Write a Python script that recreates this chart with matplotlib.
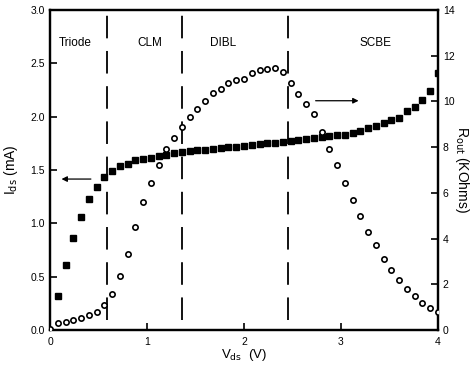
import numpy as np
import matplotlib
matplotlib.use("Agg")
import matplotlib.pyplot as plt

plt.rcParams['font.family'] = ['Liberation Sans', 'DejaVu Sans']

# drain voltage grid (V)
vds_ids = [0.08, 0.16, 0.24, 0.32, 0.40, 0.48, 0.56, 0.64, 0.72, 0.80,
           0.88, 0.96, 1.04, 1.12, 1.20, 1.28, 1.36, 1.44, 1.52, 1.60,
           1.68, 1.76, 1.84, 1.92, 2.00, 2.08, 2.16, 2.24, 2.32, 2.40,
           2.48, 2.56, 2.64, 2.72, 2.80, 2.88, 2.96, 3.04, 3.12, 3.20,
           3.28, 3.36, 3.44, 3.52, 3.60, 3.68, 3.76, 3.84, 3.92, 4.00]
# drain current (mA)
ids = [0.32, 0.61, 0.86, 1.06, 1.225, 1.34, 1.43, 1.49, 1.54, 1.56,
       1.59, 1.60, 1.615, 1.63, 1.645, 1.655, 1.665, 1.675, 1.685, 1.69,
       1.70, 1.71, 1.715, 1.72, 1.725, 1.73, 1.74, 1.75, 1.755, 1.76,
       1.77, 1.78, 1.79, 1.80, 1.81, 1.82, 1.825, 1.83, 1.85, 1.87,
       1.89, 1.91, 1.94, 1.97, 1.99, 2.05, 2.09, 2.16, 2.24, 2.41]

vds_rout = [0.0] + vds_ids
# output resistance (KOhms)
rout = [0.03, 0.32, 0.36, 0.44, 0.54, 0.67, 0.79, 1.11, 1.59, 2.35, 3.34,
        4.52, 5.59, 6.44, 7.22, 7.90, 8.38, 8.87, 9.33, 9.68, 10.03,
        10.35, 10.53, 10.79, 10.94, 11.00, 11.26, 11.36, 11.41, 11.47, 11.27,
        10.82, 10.31, 9.87, 9.43, 8.65, 7.93, 7.23, 6.44, 5.67, 4.99,
        4.29, 3.70, 3.11, 2.61, 2.19, 1.81, 1.49, 1.18, 0.98, 0.80]

# region boundaries and names
boundaries = [0.59, 1.36, 2.45]
regions = ["Triode", "CLM", "DIBL", "SCBE"]
region_x = [0.26, 1.03, 1.78, 3.36]

fig = plt.figure(figsize=(4.74, 3.66), dpi=100)
ax = fig.add_axes([0.1055, 0.0984, 0.8185, 0.8743])
ax2 = ax.twinx()

ax.plot(vds_ids, ids, 's', color='black', markersize=4.4, zorder=3)
ax2.plot(vds_rout, rout, 'o', markerfacecolor='white', markeredgecolor='black',
         markeredgewidth=1.2, markersize=3.8, zorder=3)

for b in boundaries:
    ax.plot([b, b], [0.09, 3.0], color='black', lw=1.3,
            dashes=(12.5, 7), zorder=2)

for name, x in zip(regions, region_x):
    ax.text(x, 2.69, name, ha='center', va='center', fontsize=8.5)

ax.annotate('', xy=(0.09, 1.415), xytext=(0.45, 1.415),
            arrowprops=dict(arrowstyle='-|>', color='black', lw=0.9,
                            mutation_scale=8))
ax2.annotate('', xy=(3.21, 10.03), xytext=(2.71, 10.03),
             arrowprops=dict(arrowstyle='-|>', color='black', lw=0.9,
                             mutation_scale=8))

ax.set_xlim(0, 4)
ax.set_ylim(0, 3.0)
ax2.set_ylim(0, 14)
ax.set_xticks([0, 1, 2, 3, 4])
ax.set_yticks(np.arange(0, 3.01, 0.5))
ax.set_yticklabels(["0.0", "0.5", "1.0", "1.5", "2.0", "2.5", "3.0"])
ax2.set_yticks(range(0, 15, 2))

for a in (ax, ax2):
    for s in a.spines.values():
        s.set_linewidth(1.6)
    a.tick_params(direction='in', length=5, width=1.2, labelsize=7.5)
ax.tick_params(axis='x', pad=5)

ax.set_xlabel(r'V$_{\rm ds}$  (V)', fontsize=9.5, labelpad=0)
ax.set_ylabel(r'I$_{\rm ds}$ (mA)', fontsize=10, labelpad=8)
ax2.set_ylabel(r'R$_{\rm out}$ (KOhms)', fontsize=10, rotation=-90,
               labelpad=12)

fig.savefig("out.png", dpi=100)
